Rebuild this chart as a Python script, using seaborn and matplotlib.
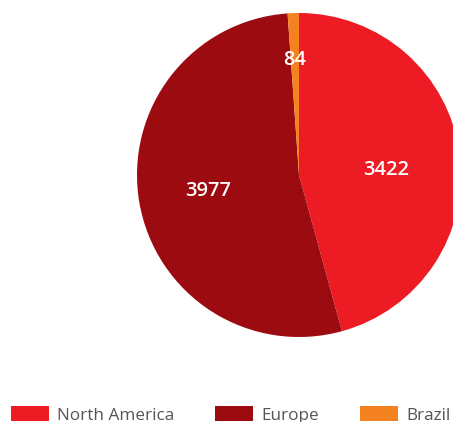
import matplotlib
matplotlib.use("Agg")
import matplotlib.pyplot as plt
from matplotlib.patches import Patch
import numpy as np
import seaborn as sns

regions = ["North America", "Europe", "Brazil"]
counts = [3422, 3977, 84]
colors = ["#ED1C24", "#9B0B10", "#F58220"]
label_radius = [0.54, 0.57, 0.71]
label_dy = [-0.04, 0.0, 0.0]

sns.set_theme(style="white")
plt.rcParams["font.family"] = ["Open Sans", "DejaVu Sans"]

W, H = 453, 422
fig = plt.figure(figsize=(W / 100, H / 100), dpi=100)
fig.patch.set_facecolor("white")

# pie axes: centre (299, 175) px, radius 162 px
cx, cy, r = 299, 175, 162
ax = fig.add_axes([(cx - r) / W, (H - cy - r) / H, 2 * r / W, 2 * r / H])
wedges, _ = ax.pie(counts, colors=colors, startangle=90, counterclock=False,
                   radius=1.0, wedgeprops=dict(linewidth=0))
ax.set_xlim(-1, 1)
ax.set_ylim(-1, 1)
ax.set_aspect("equal")
ax.axis("off")
for w in wedges:
    w.set_clip_on(False)

for w, val, lr, dy in zip(wedges, counts, label_radius, label_dy):
    mid = np.deg2rad((w.theta1 + w.theta2) / 2)
    ax.text(lr * np.cos(mid), lr * np.sin(mid) + dy, f"{val}", color="white",
            fontsize=14.5, fontweight="semibold", ha="center", va="center")

handles = [Patch(facecolor=c, edgecolor="none") for c in colors]
fs = 12.3
em = fs * 100 / 72
leg = fig.legend(handles, regions, loc="lower left", ncol=3,
                 bbox_to_anchor=(11 / W, -1.5 / H), frameon=False,
                 fontsize=fs, handlelength=38 / em,
                 handleheight=1.0, handletextpad=8 / em,
                 columnspacing=41 / em,
                 borderpad=0, borderaxespad=0)
for t in leg.get_texts():
    t.set_color("#555555")

fig.savefig("out.png", dpi=100, facecolor="white")
